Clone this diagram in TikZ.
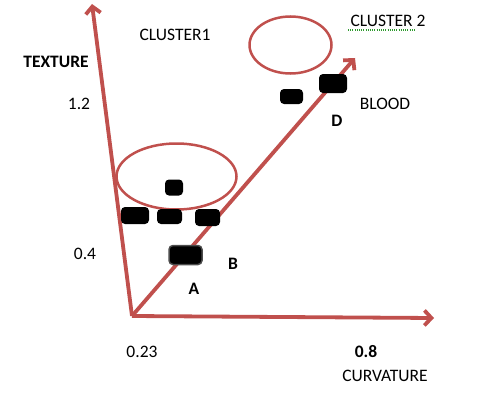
\documentclass[tikz,border=0pt]{standalone}
\usepackage{fontspec}
\setmainfont{Carlito}
\usetikzlibrary{arrows.meta,shapes.geometric}
\definecolor{AxisRed}{HTML}{C0504D}
\definecolor{SpellGreen}{HTML}{2E9A2E}

\begin{document}
\begin{tikzpicture}[x=1pt,y=-1pt,
    axis/.style={line width=3.8pt,AxisRed,-{Straight Barb[length=7pt,width=15pt]}},
    cluster/.style={ellipse,draw=AxisRed,line width=2.5pt,inner sep=0pt},
    blob/.style={fill=black,rounded corners=4pt,inner sep=0pt},
    lbl/.style={font=\fontsize{17.5}{20}\selectfont,inner sep=0pt},
    bold/.style={font=\fontsize{17.5}{20}\selectfont\bfseries}]
    \useasboundingbox (0,0) rectangle (500,404);
    % axes
    \coordinate (O) at (132,316);
    \coordinate (texturetip) at (92,4);
    \coordinate (curvtip) at (434,318);
    \coordinate (bloodtip) at (355,58);
    \draw[axis] (O) -- (texturetip);
    \draw[axis] (O) -- (curvtip);
    \draw[axis] (O) -- (bloodtip);
    % clusters
    \node[cluster,minimum width=120pt,minimum height=66pt] (clone) at (176.5,176.5) {};
    \node[cluster,minimum width=82pt,minimum height=57pt] (cltwo) at (290.5,45) {};
    % samples
    \node[blob,minimum width=18pt,minimum height=16pt] (s1) at (174,187.5) {};
    \node[blob,minimum width=28pt,minimum height=17pt] (s2) at (135,215.5) {};
    \node[blob,minimum width=25pt,minimum height=15pt] (s3) at (169.5,216.5) {};
    \node[blob,minimum width=25pt,minimum height=17pt] (s4) at (207.5,217.5) {};
    \node[blob,draw=black!70,line width=1.5pt,minimum width=33pt,minimum height=19pt] (sA) at (185.5,255) {};
    \node[blob,minimum width=23pt,minimum height=15pt] (s5) at (291.5,96.5) {};
    \node[blob,minimum width=28pt,minimum height=19pt] (sD) at (333,83.5) {};
    % labels
    \node[lbl] (clusterone) at (175,35) {CLUSTER1};
    \node[lbl] (clustertwo) at (388,21) {CLUSTER 2};
    \draw[SpellGreen,dash pattern=on 1pt off 1.2pt,line width=1.2pt] (348,30) -- (415,30);
    \node[lbl,bold] (texture) at (56,62) {TEXTURE};
    \node[lbl] (ytop) at (79,104) {1.2};
    \node[lbl] (ylow) at (85,254) {0.4};
    \node[lbl] (xlow) at (142,352) {0.23};
    \node[lbl,bold] (xtop) at (366,352) {0.8};
    \node[lbl] (curv) at (385,376) {CURVATURE};
    \node[lbl] (blood) at (385,104) {BLOOD};
    \node[lbl,bold] (lblD) at (337,121) {D};
    \node[lbl,bold] (lblA) at (194,289) {A};
    \node[lbl,bold] (lblB) at (233,264) {B};
\end{tikzpicture}
\end{document}
